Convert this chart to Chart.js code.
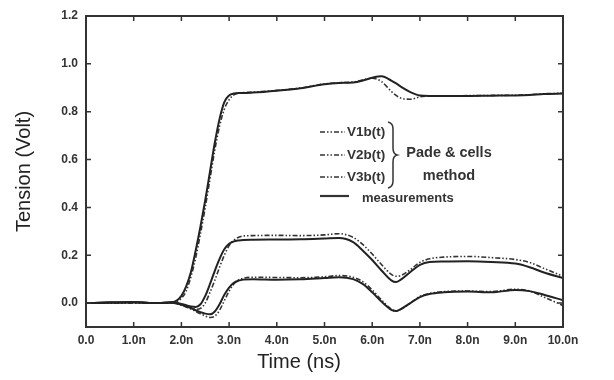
<!DOCTYPE html>
<html>
<head>
<meta charset="utf-8">
<script src="https://cdn.jsdelivr.net/npm/chart.js@4/dist/chart.umd.min.js"></script>
<style>
  html, body { margin: 0; padding: 0; background: #fff; }
  #wrap { width: 614px; height: 380px; }
</style>
</head>
<body>
<div id="wrap"><canvas id="tensionChart" width="614" height="380"></canvas></div>
<script>
// ---------------- Data ----------------
const timeNs = [0, 0.5, 1.0, 1.5, 1.8, 1.9, 2.0, 2.1, 2.2, 2.3, 2.4, 2.5, 2.6, 2.7, 2.8, 2.9,
  3.0, 3.1, 3.2, 3.3, 3.5, 4.0, 4.5, 5.0, 5.3, 5.6, 5.8, 6.0, 6.2, 6.4, 6.5, 6.6, 6.8,
  7.0, 7.2, 7.5, 8.0, 8.5, 9.0, 9.3, 9.6, 10.0];

// measurements (solid)
const v1Meas = [0, 0.002, 0.003, 0, 0.003, 0.01, 0.03, 0.07, 0.13, 0.22, 0.32, 0.43, 0.55, 0.67, 0.77, 0.84,
  0.868, 0.876, 0.878, 0.878, 0.88, 0.888, 0.898, 0.915, 0.92, 0.922, 0.93, 0.942, 0.948, 0.93, 0.918, 0.905, 0.882,
  0.868, 0.866, 0.866, 0.866, 0.867, 0.868, 0.87, 0.874, 0.876];
const v2Meas = [0, 0.002, 0.003, 0, 0.002, 0, -0.004, -0.009, -0.014, -0.016, -0.005, 0.03, 0.08, 0.135, 0.185, 0.225,
  0.248, 0.258, 0.262, 0.264, 0.265, 0.266, 0.267, 0.27, 0.272, 0.255, 0.22, 0.18, 0.135, 0.095, 0.088, 0.098, 0.13,
  0.16, 0.172, 0.174, 0.175, 0.172, 0.165, 0.15, 0.128, 0.105];
const v3Meas = [0, 0.002, 0.003, 0, 0.002, -0.002, -0.007, -0.013, -0.021, -0.03, -0.038, -0.044, -0.047, -0.035, -0.005, 0.035,
  0.065, 0.085, 0.094, 0.098, 0.1, 0.098, 0.1, 0.105, 0.108, 0.1, 0.08, 0.045, 0.005, -0.028, -0.033, -0.025, 0.0,
  0.025, 0.038, 0.045, 0.048, 0.045, 0.055, 0.05, 0.035, 0.012];

// Pade & cells method (dash-dot-dot)
const v1Sim = [0, 0.001, 0.002, 0, 0.002, 0.006, 0.02, 0.05, 0.11, 0.19, 0.29, 0.40, 0.52, 0.64, 0.74, 0.81,
  0.85, 0.87, 0.878, 0.88, 0.882, 0.889, 0.899, 0.916, 0.921, 0.924, 0.932, 0.94, 0.925, 0.885, 0.868, 0.857, 0.852,
  0.862, 0.865, 0.866, 0.867, 0.868, 0.869, 0.871, 0.875, 0.877];
const v2Sim = [0, 0.001, 0.002, 0, 0.002, 0, -0.005, -0.012, -0.02, -0.026, -0.022, 0.0, 0.045, 0.095, 0.15, 0.2,
  0.24, 0.263, 0.275, 0.28, 0.282, 0.283, 0.282, 0.285, 0.29, 0.275, 0.245, 0.205, 0.16, 0.12, 0.112, 0.115, 0.14,
  0.17, 0.185, 0.192, 0.195, 0.19, 0.182, 0.17, 0.145, 0.112];
const v3Sim = [0, 0.001, 0.002, 0, 0.002, -0.003, -0.009, -0.016, -0.025, -0.035, -0.045, -0.054, -0.06, -0.055, -0.03, 0.01,
  0.05, 0.08, 0.097, 0.104, 0.108, 0.107, 0.106, 0.11, 0.115, 0.108, 0.09, 0.055, 0.012, -0.025, -0.032, -0.026, 0.0,
  0.028, 0.04, 0.048, 0.05, 0.048, 0.058, 0.05, 0.025, -0.01];

const xTicks = [0, 1, 2, 3, 4, 5, 6, 7, 8, 9, 10];
const yTicks = [0, 0.2, 0.4, 0.6, 0.8, 1.0, 1.2];
const simLabels = ["V1b(t)", "V2b(t)", "V3b(t)"];

// ---------------- Styles ----------------
const INK = "#222";
const SIM_DASH = [5, 2, 1.5, 2, 1.5, 2];
const FONT = "'Liberation Sans', Arial, sans-serif";

function toPoints(vals) {
  return timeNs.map((t, i) => ({ x: t, y: vals[i] }));
}

function simSet(label, vals) {
  return {
    label, data: toPoints(vals),
    borderColor: "#333", borderWidth: 1.6, borderDash: SIM_DASH,
    pointRadius: 0, cubicInterpolationMode: "monotone", fill: false
  };
}
function measSet(label, vals) {
  return {
    label, data: toPoints(vals),
    borderColor: INK, borderWidth: 2,
    pointRadius: 0, cubicInterpolationMode: "monotone", fill: false
  };
}

// ---------------- Frame + inward ticks ----------------
const framePlugin = {
  id: "frame",
  afterDatasetsDraw(chart) {
    const { ctx, chartArea: a, scales } = chart;
    ctx.save();
    ctx.strokeStyle = "#333";
    ctx.lineWidth = 2;
    ctx.strokeRect(a.left, a.top, a.right - a.left, a.bottom - a.top);
    ctx.lineWidth = 1.5;
    const len = 5;
    ctx.beginPath();
    xTicks.forEach(v => {
      const px = scales.x.getPixelForValue(v);
      ctx.moveTo(px, a.bottom); ctx.lineTo(px, a.bottom - len);
      ctx.moveTo(px, a.top); ctx.lineTo(px, a.top + len);
    });
    yTicks.forEach(v => {
      const py = scales.y.getPixelForValue(v);
      ctx.moveTo(a.left, py); ctx.lineTo(a.left + len, py);
      ctx.moveTo(a.right, py); ctx.lineTo(a.right - len, py);
    });
    ctx.stroke();
    // x axis title, sits a little left of centre in the original
    ctx.fillStyle = "#222";
    ctx.font = "20px " + FONT;
    ctx.textAlign = "center";
    ctx.textBaseline = "middle";
    ctx.fillText("Time (ns)", 299, 362);
    ctx.restore();
  }
};

// ---------------- Legend (drawn inside plot) ----------------
const legendPlugin = {
  id: "braceLegend",
  afterDraw(chart) {
    const ctx = chart.ctx;
    ctx.save();
    ctx.fillStyle = "#333";
    ctx.strokeStyle = "#333";
    ctx.textBaseline = "middle";
    const rows = [132, 155, 177];
    rows.forEach((y, i) => {
      ctx.lineWidth = 1.6;
      ctx.setLineDash(SIM_DASH);
      ctx.beginPath(); ctx.moveTo(320, y); ctx.lineTo(345, y); ctx.stroke();
      ctx.setLineDash([]);
      ctx.font = "bold 13.5px " + FONT;
      ctx.textAlign = "left";
      ctx.fillText(simLabels[i], 347, y);
    });
    // brace
    ctx.lineWidth = 1.5;
    ctx.beginPath();
    ctx.moveTo(388, 122);
    ctx.quadraticCurveTo(393, 123, 393, 129);
    ctx.lineTo(393, 148);
    ctx.quadraticCurveTo(393, 154, 397, 155);
    ctx.quadraticCurveTo(393, 156, 393, 162);
    ctx.lineTo(393, 181);
    ctx.quadraticCurveTo(393, 187, 388, 188);
    ctx.stroke();
    ctx.font = "bold 14.5px " + FONT;
    ctx.textAlign = "center";
    ctx.fillText("Pade & cells", 449, 153);
    ctx.fillText("method", 449, 176);
    // measurements
    ctx.lineWidth = 2.2;
    ctx.beginPath(); ctx.moveTo(320, 196); ctx.lineTo(349, 196); ctx.stroke();
    ctx.font = "bold 13px " + FONT;
    ctx.textAlign = "left";
    ctx.fillText("measurements", 362, 198);
    ctx.restore();
  }
};

// ---------------- Chart ----------------
new Chart(document.getElementById("tensionChart"), {
  type: "line",
  data: {
    datasets: [
      measSet("V1 measured", v1Meas),
      measSet("V2 measured", v2Meas),
      measSet("V3 measured", v3Meas),
      simSet(simLabels[0], v1Sim),
      simSet(simLabels[1], v2Sim),
      simSet(simLabels[2], v3Sim)
    ]
  },
  options: {
    responsive: false,
    devicePixelRatio: 1,
    animation: false,
    layout: { padding: { top: 16, right: 51, left: 0, bottom: 0 } },
    plugins: { legend: { display: false }, tooltip: { enabled: false } },
    scales: {
      x: {
        type: "linear", min: 0, max: 10,
        afterBuildTicks: s => { s.ticks = xTicks.map(v => ({ value: v })); },
        afterFit: s => { s.height = 53; },
        grid: { display: false, drawTicks: false },
        border: { display: false },
        ticks: {
          padding: 6, color: "#333", maxRotation: 0, autoSkip: false,
          font: { family: FONT, size: 12, weight: "bold" },
          callback: v => v === 0 ? "0.0" : v.toFixed(1) + "n"
        },
        title: { display: false }
      },
      y: {
        type: "linear", min: -0.1, max: 1.2,
        afterBuildTicks: s => { s.ticks = yTicks.map(v => ({ value: v })); },
        afterFit: s => { s.width = 86; },
        grid: { display: false, drawTicks: false },
        border: { display: false },
        ticks: {
          padding: 8, color: "#333", autoSkip: false,
          font: { family: FONT, size: 12, weight: "bold" },
          callback: v => v.toFixed(1)
        },
        title: {
          display: true, text: "Tension (Volt)", color: "#222",
          font: { family: FONT, size: 20 }, padding: { top: 12, bottom: 0 }
        }
      }
    }
  },
  plugins: [framePlugin, legendPlugin]
});
</script>
</body>
</html>
